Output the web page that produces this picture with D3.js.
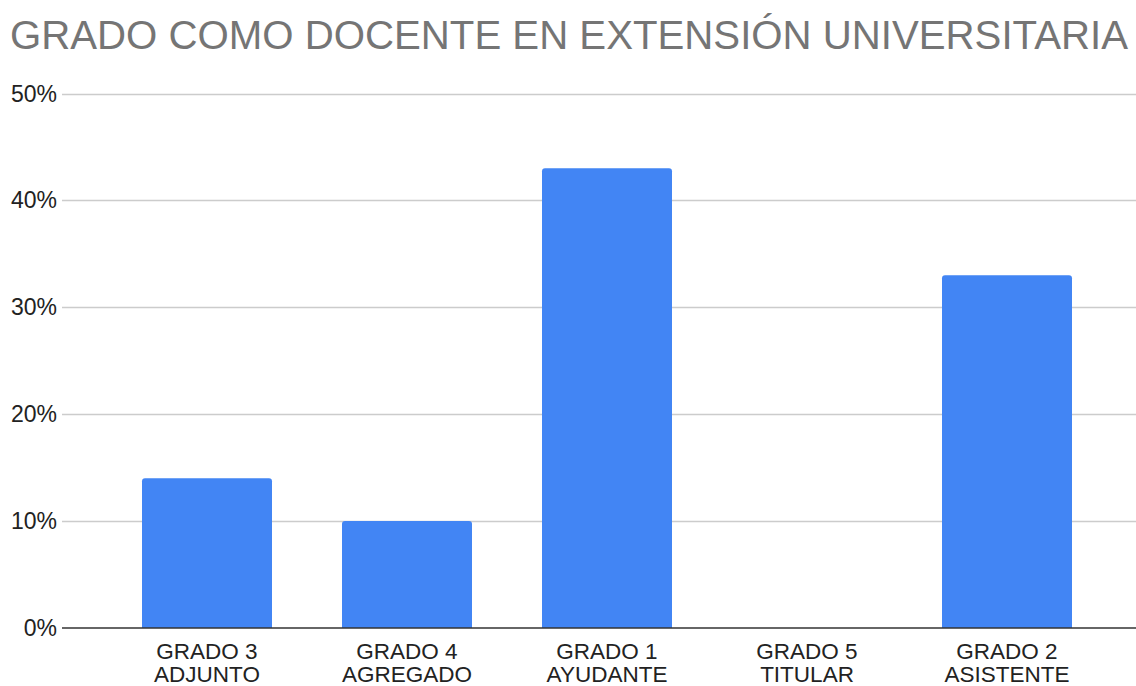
<!DOCTYPE html>
<html>
<head>
<meta charset="utf-8">
<script src="https://cdn.jsdelivr.net/npm/d3@7"></script>
<style>
  html, body { margin: 0; padding: 0; background: #fff; }
  svg { display: block; font-family: "Liberation Sans", Arial, sans-serif; }
</style>
</head>
<body>
<svg id="chart" width="1136" height="686"></svg>
<script>
const title = 'GRADO COMO DOCENTE EN EXTENSIÓN UNIVERSITARIA'
const categories = [
  ['GRADO 3', 'ADJUNTO'],
  ['GRADO 4', 'AGREGADO'],
  ['GRADO 1', 'AYUDANTE'],
  ['GRADO 5', 'TITULAR'],
  ['GRADO 2', 'ASISTENTE'],
]
const values = [0.14, 0.10, 0.43, 0, 0.33]
const yTicks = [0, 0.1, 0.2, 0.3, 0.4, 0.5]

const gridLeft = 62
const gridRight = 1136

const svg = d3.select('#chart')

const x = d3.scaleBand()
  .domain(categories.map((d) => d.join(' ')))
  .range([107, 1107])
  .paddingInner(0.35)
  .paddingOuter(0.175)

const y = d3.scaleLinear().domain([0, 0.5]).range([628, 93.5])

svg.append('text')
  .attr('x', 10)
  .attr('y', 49)
  .attr('fill', '#757575')
  .attr('font-size', 40.2)
  .text(title)

// grid
svg.append('g')
  .selectAll('line')
  .data(yTicks.filter((d) => d > 0))
  .join('line')
  .attr('x1', gridLeft)
  .attr('x2', gridRight)
  .attr('y1', (d) => Math.round(y(d)) + 0.5)
  .attr('y2', (d) => Math.round(y(d)) + 0.5)
  .attr('stroke', '#cccccc')
  .attr('stroke-width', 1.5)

svg.append('g')
  .selectAll('text')
  .data(yTicks)
  .join('text')
  .attr('x', 57)
  .attr('y', (d) => y(d))
  .attr('dy', '0.35em')
  .attr('text-anchor', 'end')
  .attr('fill', '#222')
  .attr('font-size', 23)
  .text(d3.format('.0%'))

// bars, slightly rounded on top
const r = 3
svg.append('g')
  .selectAll('path')
  .data(values.map((v, i) => ({ key: categories[i].join(' '), v })))
  .join('path')
  .filter((d) => d.v > 0)
  .attr('fill', '#4285f4')
  .attr('d', (d) => {
    const x0 = x(d.key)
    const x1 = x0 + x.bandwidth()
    const y0 = y(d.v)
    const yb = y(0)
    return `M${x0},${yb}V${y0 + r}Q${x0},${y0} ${x0 + r},${y0}H${x1 - r}Q${x1},${y0} ${x1},${y0 + r}V${yb}Z`
  })

// baseline
svg.append('line')
  .attr('x1', gridLeft)
  .attr('x2', gridRight)
  .attr('y1', y(0))
  .attr('y2', y(0))
  .attr('stroke', '#333')
  .attr('stroke-width', 1.5)

// x labels, two lines each
const xl = svg.append('g')
  .selectAll('text')
  .data(categories)
  .join('text')
  .attr('text-anchor', 'middle')
  .attr('fill', '#222')
  .attr('font-size', 22.5)
  .attr('transform', (d) => `translate(${x(d.join(' ')) + x.bandwidth() / 2},0)`)

xl.selectAll('tspan')
  .data((d) => d)
  .join('tspan')
  .attr('x', 0)
  .attr('y', (d, i) => 659 + i * 23)
  .text((d) => d)
</script>
</body>
</html>
